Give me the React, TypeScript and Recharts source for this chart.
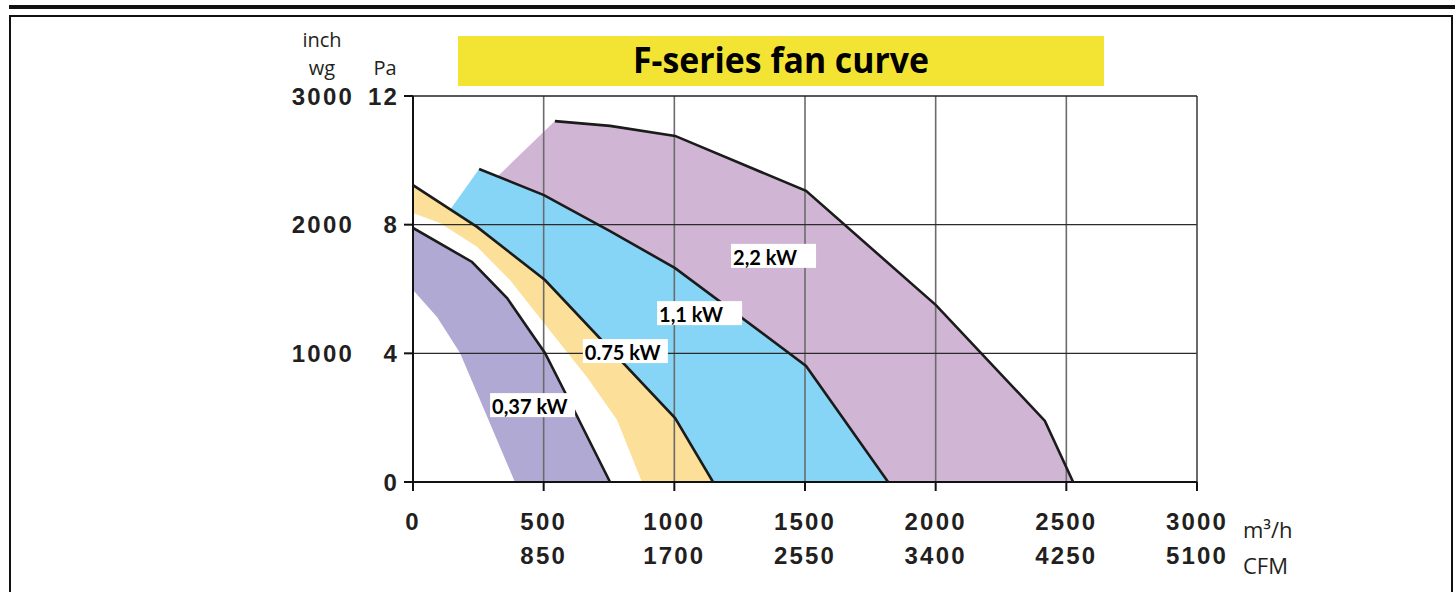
import {
  ComposedChart,
  Area,
  Line,
  XAxis,
  YAxis,
  ReferenceLine,
  ReferenceDot
} from "recharts";

// axis ticks
const flowTicks = [0, 500, 1000, 1500, 2000, 2500, 3000];
const cfmLabels = ["", "850", "1700", "2550", "3400", "4250", "5100"];
const paTicks = [0, 4, 8, 12];
const wgLabels = ["", "1000", "2000", "3000"];
const gridFlow = [500, 1000, 1500, 2000, 2500];
const gridPa = [4, 8];

// 2,2 kW
const curve22 = [
  { x: 543, y: 11.22 },
  { x: 754, y: 11.07 },
  { x: 1003, y: 10.76 },
  { x: 1504, y: 9.05 },
  { x: 2001, y: 5.5 },
  { x: 2418, y: 1.9 },
  { x: 2526, y: 0 }
];
const field22 = [{ x: 321, y: 9.48 }, ...curve22];

// 1,1 kW
const curve11 = [
  { x: 253, y: 9.73 },
  { x: 501, y: 8.92 },
  { x: 754, y: 7.8 },
  { x: 1003, y: 6.65 },
  { x: 1504, y: 3.61 },
  { x: 1818, y: 0 }
];
const field11 = [{ x: 142, y: 8.46 }, ...curve11];

// 0.75 kW
const curve075 = [
  { x: 0, y: 9.23 },
  { x: 245, y: 7.93 },
  { x: 505, y: 6.28 },
  { x: 1003, y: 1.99 },
  { x: 1148, y: 0 }
];
const edge075 = [
  { x: 0, y: 8.36 },
  { x: 103, y: 8.05 },
  { x: 245, y: 7.31 },
  { x: 371, y: 6.28 },
  { x: 513, y: 4.82 },
  { x: 666, y: 3.26 },
  { x: 781, y: 1.93 },
  { x: 876, y: 0 }
];

// 0,37 kW
const curve037 = [
  { x: 0, y: 7.9 },
  { x: 226, y: 6.84 },
  { x: 360, y: 5.72 },
  { x: 505, y: 4.01 },
  { x: 612, y: 2.3 },
  { x: 754, y: 0 }
];
const edge037 = [
  { x: 0, y: 5.97 },
  { x: 92, y: 5.13 },
  { x: 180, y: 4.01 },
  { x: 390, y: 0 }
];

// motor labels, anchored at the left-middle of each box
const kwNames = ["2,2 kW", "1,1 kW", "0.75 kW", "0,37 kW"];
const kwFlow = [1217, 934, 650, 295];
const kwPa = [7.03, 5.25, 4.07, 2.39];

const numFont = {
  fontFamily: "'Liberation Sans', Arial, sans-serif",
  fontWeight: 700,
  fontSize: 24,
  letterSpacing: 2.2,
  fill: "#231f20"
};
const unitFont = {
  fontFamily: "'Open Sans', sans-serif",
  fontSize: 22,
  fill: "#231f20"
};

const W = 1455;
const H = 592;
const MARGIN = { top: 96, right: 258, bottom: 10, left: 293 };

const FlowTick = (props: any) => {
  const { x, y, payload } = props;
  const i = flowTicks.indexOf(payload.value);
  const last = i === flowTicks.length - 1;
  return (
    <g>
      <text x={x} y={y + 30} textAnchor="middle" dominantBaseline="central" style={numFont}>
        {payload.value}
      </text>
      {cfmLabels[i] ? (
        <text x={x} y={y + 64} textAnchor="middle" dominantBaseline="central" style={numFont}>
          {cfmLabels[i]}
        </text>
      ) : null}
      {last ? (
        <>
          <text x={x + 46} y={y + 38} dominantBaseline="central" style={unitFont}>
            m³/h
          </text>
          <text x={x + 46} y={y + 74} dominantBaseline="central" style={unitFont}>
            CFM
          </text>
        </>
      ) : null}
    </g>
  );
};

const PressureTick = (props: any) => {
  const { x, y, payload } = props;
  const i = paTicks.indexOf(payload.value);
  return (
    <g>
      <text x={x} y={y} textAnchor="end" dominantBaseline="central" style={numFont}>
        {payload.value}
      </text>
      {wgLabels[i] ? (
        <text x={x - 45} y={y} textAnchor="end" dominantBaseline="central" style={numFont}>
          {wgLabels[i]}
        </text>
      ) : null}
    </g>
  );
};

const KwBox = (props: any) => {
  const { cx, cy, text } = props;
  return (
    <g>
      <rect x={cx} y={cy - 12} width={85} height={24} fill="#ffffff" />
      <text
        x={cx + 2}
        y={cy + 1}
        dominantBaseline="central"
        style={{ fontFamily: "Lato, sans-serif", fontWeight: 700, fontSize: 20, fill: "#000" }}
      >
        {text}
      </text>
    </g>
  );
};

const App = () => {
  return (
    <div
      style={{
        position: "absolute",
        left: 0,
        top: 0,
        width: W,
        height: H,
        background: "#fff",
        overflow: "hidden"
      }}
    >
      <div style={{ position: "absolute", left: 9, top: 5, width: 1446, height: 4, background: "#111" }} />
      <div
        style={{
          position: "absolute",
          left: 9,
          top: 15,
          width: 1440,
          height: 600,
          borderTop: "2px solid #111",
          borderLeft: "2px solid #111",
          borderRight: "2px solid #111"
        }}
      />

      <div
        style={{
          position: "absolute",
          left: 458,
          top: 36,
          width: 646,
          height: 50,
          background: "#f3e434"
        }}
      />
      <svg style={{ position: "absolute", left: 0, top: 0 }} width={W} height={H}>
        <text
          x={781}
          y={73}
          textAnchor="middle"
          textLength={296}
          lengthAdjust="spacingAndGlyphs"
          style={{ fontFamily: "'Open Sans', sans-serif", fontWeight: 700, fontSize: 35, fill: "#000" }}
        >
          F-series fan curve
        </text>
        <text x={322} y={47} textAnchor="middle" style={{ ...unitFont, fontSize: 20 }}>
          inch
        </text>
        <text x={322} y={75} textAnchor="middle" style={{ ...unitFont, fontSize: 20 }}>
          wg
        </text>
        <text x={385} y={75} textAnchor="middle" style={{ ...unitFont, fontSize: 20 }}>
          Pa
        </text>
      </svg>

      {/* fills */}
      <div style={{ position: "absolute", left: 0, top: 0 }}>
        <ComposedChart width={W} height={H} margin={MARGIN}>
          <XAxis type="number" dataKey="x" domain={[0, 3000]} ticks={flowTicks} allowDataOverflow height={100} axisLine={false} tickLine={false} tick={false} />
          <YAxis type="number" dataKey="y" domain={[0, 12]} ticks={paTicks} allowDataOverflow width={120} axisLine={false} tickLine={false} tick={false} />

          <Area data={field22} dataKey="y" type="linear" fill="#d1b5d5" fillOpacity={1} stroke="none" isAnimationActive={false} />
          <Area data={field11} dataKey="y" type="linear" fill="#87d5f6" fillOpacity={1} stroke="none" isAnimationActive={false} />
          <Area data={curve075} dataKey="y" type="linear" fill="#fcdf98" fillOpacity={1} stroke="none" isAnimationActive={false} />
          <Area data={edge075} dataKey="y" type="linear" fill="#ffffff" fillOpacity={1} stroke="none" isAnimationActive={false} />
          <Area data={curve037} dataKey="y" type="linear" fill="#afa9d4" fillOpacity={1} stroke="none" isAnimationActive={false} />
          <Area data={edge037} dataKey="y" type="linear" fill="#ffffff" fillOpacity={1} stroke="none" isAnimationActive={false} />
        </ComposedChart>
      </div>

      {/* grid, axes, curves and labels on top */}
      <div style={{ position: "absolute", left: 0, top: 0 }}>
        <ComposedChart width={W} height={H} margin={MARGIN}>
          <XAxis
            type="number"
            dataKey="x"
            domain={[0, 3000]}
            ticks={flowTicks}
            allowDataOverflow
            height={100}
            axisLine={false}
            tickLine={{ stroke: "#111", strokeWidth: 2 }}
            tickSize={9}
            tickMargin={0}
            tick={<FlowTick />}
            interval={0}
          />
          <YAxis
            type="number"
            dataKey="y"
            domain={[0, 12]}
            ticks={paTicks}
            allowDataOverflow
            width={120}
            axisLine={false}
            tickLine={{ stroke: "#111", strokeWidth: 2 }}
            tickSize={9}
            tickMargin={5}
            tick={<PressureTick />}
            interval={0}
          />

          {gridFlow.map((v) => (
            <ReferenceLine key={"gx" + v} x={v} stroke="#6b6b6b" strokeWidth={1.6} />
          ))}
          {gridPa.map((v) => (
            <ReferenceLine key={"gy" + v} y={v} stroke="#2b2b2b" strokeWidth={1.3} />
          ))}
          <ReferenceLine x={3000} stroke="#444" strokeWidth={1.6} />
          <ReferenceLine y={12} stroke="#222" strokeWidth={1.6} />
          <ReferenceLine x={0} stroke="#111" strokeWidth={2} />
          <ReferenceLine y={0} stroke="#111" strokeWidth={2} />

          <Line data={curve22} dataKey="y" type="linear" stroke="#1b1b1b" strokeWidth={2.6} dot={false} isAnimationActive={false} />
          <Line data={curve11} dataKey="y" type="linear" stroke="#1b1b1b" strokeWidth={2.6} dot={false} isAnimationActive={false} />
          <Line data={curve075} dataKey="y" type="linear" stroke="#1b1b1b" strokeWidth={2.6} dot={false} isAnimationActive={false} />
          <Line data={curve037} dataKey="y" type="linear" stroke="#1b1b1b" strokeWidth={2.6} dot={false} isAnimationActive={false} />

          {kwNames.map((name, i) => (
            <ReferenceDot
              key={name}
              x={kwFlow[i]}
              y={kwPa[i]}
              r={0}
              shape={(p: any) => <KwBox {...p} text={name} />}
            />
          ))}
        </ComposedChart>
      </div>
    </div>
  );
};

export default App;
